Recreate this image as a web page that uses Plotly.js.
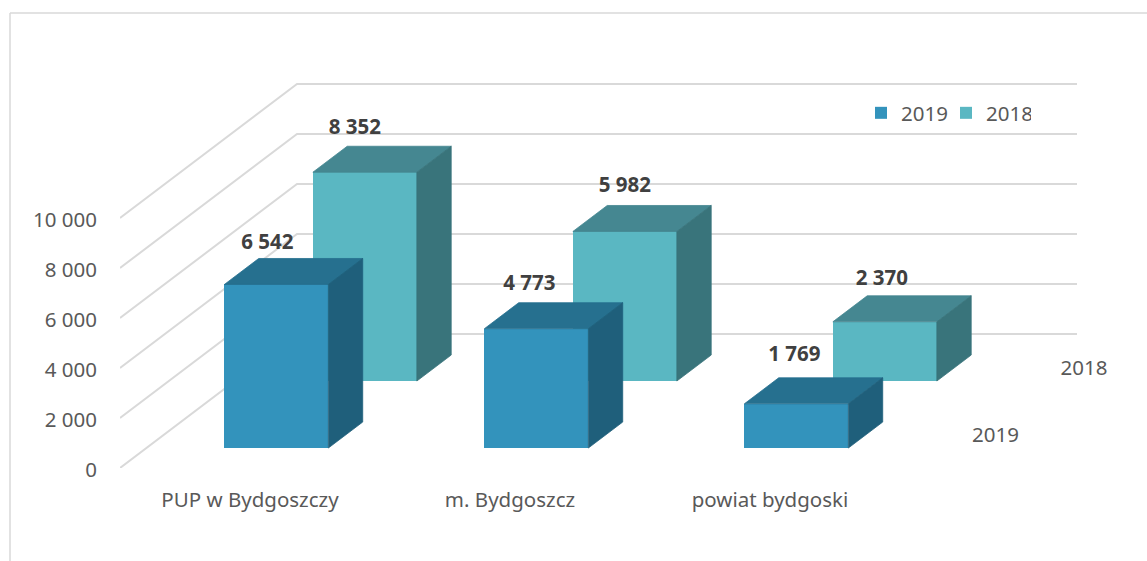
<!DOCTYPE html>
<html>
<head>
<meta charset="utf-8">
<script src="https://cdn.plot.ly/plotly-3.0.1.min.js"></script>
<style>html,body{margin:0;padding:0;background:#fff}</style>
</head>
<body>
<div id="chart" style="width:1147px;height:561px"></div>
<script>
// ---- data ----
const categories = ["PUP w Bydgoszczy", "m. Bydgoszcz", "powiat bydgoski"];
const values2019 = [6542, 4773, 1769];
const values2018 = [8352, 5982, 2370];
const yTicks = [0, 2000, 4000, 6000, 8000, 10000];
const yTickLabels = ["0", "2 000", "4 000", "6 000", "8 000", "10 000"];
const seriesNames = ["2019", "2018"];

// ---- oblique projection of the chart's depth axis, in axis units ----
const pxPerCat = 260, pxPerUnit = 0.025;
const depthX = 177 / pxPerCat;          // x shift of full depth
const depthY = 134 / pxPerUnit;         // y shift of full depth
const barW = 104 / pxPerCat;
const depth2019 = [0.149, 0.343];
const depth2018 = [0.649, 0.843];
const W = 1147, H = 561, L = 120, R = 1140, T = 60, B = 468;
const xMin = -0.5, xMax = xMin + (R - L) / pxPerCat;
const px = v => v / pxPerCat, py = v => v / pxPerUnit;
const fmt = v => String(v).replace(/\B(?=(\d{3})+$)/g, " ");
const FONT = "'Noto Sans', sans-serif", FS = 20.5;

const P = (x, v, d) => [x + d * depthX, v + d * depthY];

function faces(values, dr) {
  const top = {x: [], y: []}, side = {x: [], y: []};
  const poly = (t, pts) => { pts.forEach(p => { t.x.push(p[0]); t.y.push(p[1]); }); t.x.push(null); t.y.push(null); };
  values.forEach((v, i) => {
    const l = i - barW / 2, r = i + barW / 2;
    poly(top, [P(l, v, dr[0]), P(r, v, dr[0]), P(r, v, dr[1]), P(l, v, dr[1]), P(l, v, dr[0])]);
    poly(side, [P(r, 0, dr[0]), P(r, v, dr[0]), P(r, v, dr[1]), P(r, 0, dr[1]), P(r, 0, dr[0])]);
  });
  return {top, side};
}

const wall = {x: [], y: []};
yTicks.forEach(v => {
  [[xMin, v, 0], [xMin, v, 1], [2.5, v, 1]].forEach(a => {
    const p = P(a[0], a[1], a[2]); wall.x.push(p[0]); wall.y.push(p[1]);
  });
  wall.x.push(null); wall.y.push(null);
});

const faceTrace = (t, color) => ({
  type: "scatter", mode: "lines", x: t.x, y: t.y, fill: "toself", fillcolor: color,
  line: {width: 0.8, color: color}, showlegend: false, hoverinfo: "skip"
});
const barTrace = (name, values, dr, color, rank) => ({
  type: "bar", name: name,
  x: values.map((v, i) => P(i, 0, dr[0])[0]),
  y: values, base: P(0, 0, dr[0])[1], width: barW,
  marker: {color: color, line: {width: 0}}, legendrank: rank, hoverinfo: "skip"
});
const labelTrace = (values, dr, nudgeX, nudgeY) => ({
  type: "scatter", mode: "text", cliponaxis: false, showlegend: false, hoverinfo: "skip",
  x: values.map((v, i) => P(i, v, dr[1])[0] - depthX * (dr[1] - dr[0]) + px(nudgeX[i])),
  y: values.map((v, i) => P(i, v, dr[1])[1] + py(nudgeY[i])),
  text: values.map(fmt), textposition: "middle center",
  textfont: {family: FONT, size: FS, weight: 700, color: "#404040"}
});

const f19 = faces(values2019, depth2019), f18 = faces(values2018, depth2018);
const mid = d => (d[0] + d[1]) / 2;
const depthLabelX = px(52);

const traces = [
  {type: "scatter", mode: "lines", x: wall.x, y: wall.y, zorder: -1,
   line: {color: "#D9D9D9", width: 2}, showlegend: false, hoverinfo: "skip", cliponaxis: false},
  barTrace(seriesNames[1], values2018, depth2018, "#5AB7C2", 2),
  barTrace(seriesNames[0], values2019, depth2019, "#3393BC", 1),
  faceTrace(f18.top, "#458791"),
  faceTrace(f18.side, "#39747B"),
  faceTrace(f19.top, "#26708F"),
  faceTrace(f19.side, "#1F5F7B"),
  labelTrace(values2019, depth2019, [-9, -7, -2], [15, 18, 22]),
  labelTrace(values2018, depth2018, [-10, 0, -3], [17, 19, 16]),
  {type: "scatter", mode: "text", cliponaxis: false, showlegend: false, hoverinfo: "skip",
   x: [P(2.5, 0, mid(depth2019))[0] + depthLabelX, P(2.5, 0, mid(depth2018))[0] + depthLabelX],
   y: [P(2.5, 0, mid(depth2019))[1] + py(-2), P(2.5, 0, mid(depth2018))[1] + py(-2)],
   text: seriesNames, textposition: "middle center",
   textfont: {family: FONT, size: FS, color: "#595959"}}
];

const layout = {
  width: W, height: H,
  margin: {l: L, r: W - R, t: T, b: H - B, pad: 0},
  paper_bgcolor: "#fff", plot_bgcolor: "rgba(0,0,0,0)",
  barmode: "overlay", bargap: 0, hovermode: false,
  font: {family: FONT, size: FS, color: "#595959"},
  xaxis: {
    type: "linear", range: [xMin, xMax], tickmode: "array", tickvals: categories.map((c, i) => i),
    ticktext: categories, showgrid: false, zeroline: false, showline: false,
    ticks: "outside", ticklen: 13, tickcolor: "rgba(0,0,0,0)"
  },
  yaxis: {
    range: [0, (B - T) / pxPerUnit], tickmode: "array", tickvals: yTicks, ticktext: yTickLabels,
    showgrid: false, zeroline: false, showline: false, ticklabelshift: 2,
    ticks: "outside", ticklen: 18, tickcolor: "rgba(0,0,0,0)"
  },
  legend: {
    orientation: "h", x: (861 - L) / (R - L), xanchor: "left",
    y: (B - 113) / (B - T), yanchor: "middle",
    entrywidth: 40, entrywidthmode: "pixels", bgcolor: "rgba(0,0,0,0)",
    font: {family: FONT, size: FS, color: "#595959"}
  },
  shapes: [
    {type: "line", xref: "paper", yref: "paper", layer: "below",
     x0: (10 - L) / (R - L), x1: (10 - L) / (R - L), y0: (B - 13) / (B - T), y1: (B - H) / (B - T),
     line: {color: "#D9D9D9", width: 1.5}},
    {type: "line", xref: "paper", yref: "paper", layer: "below",
     x0: (10 - L) / (R - L), x1: (W - L) / (R - L), y0: (B - 13) / (B - T), y1: (B - 13) / (B - T),
     line: {color: "#D9D9D9", width: 1.5}}
  ]
};
Plotly.newPlot("chart", traces, layout, {displayModeBar: false, staticPlot: true});
</script>
</body>
</html>
